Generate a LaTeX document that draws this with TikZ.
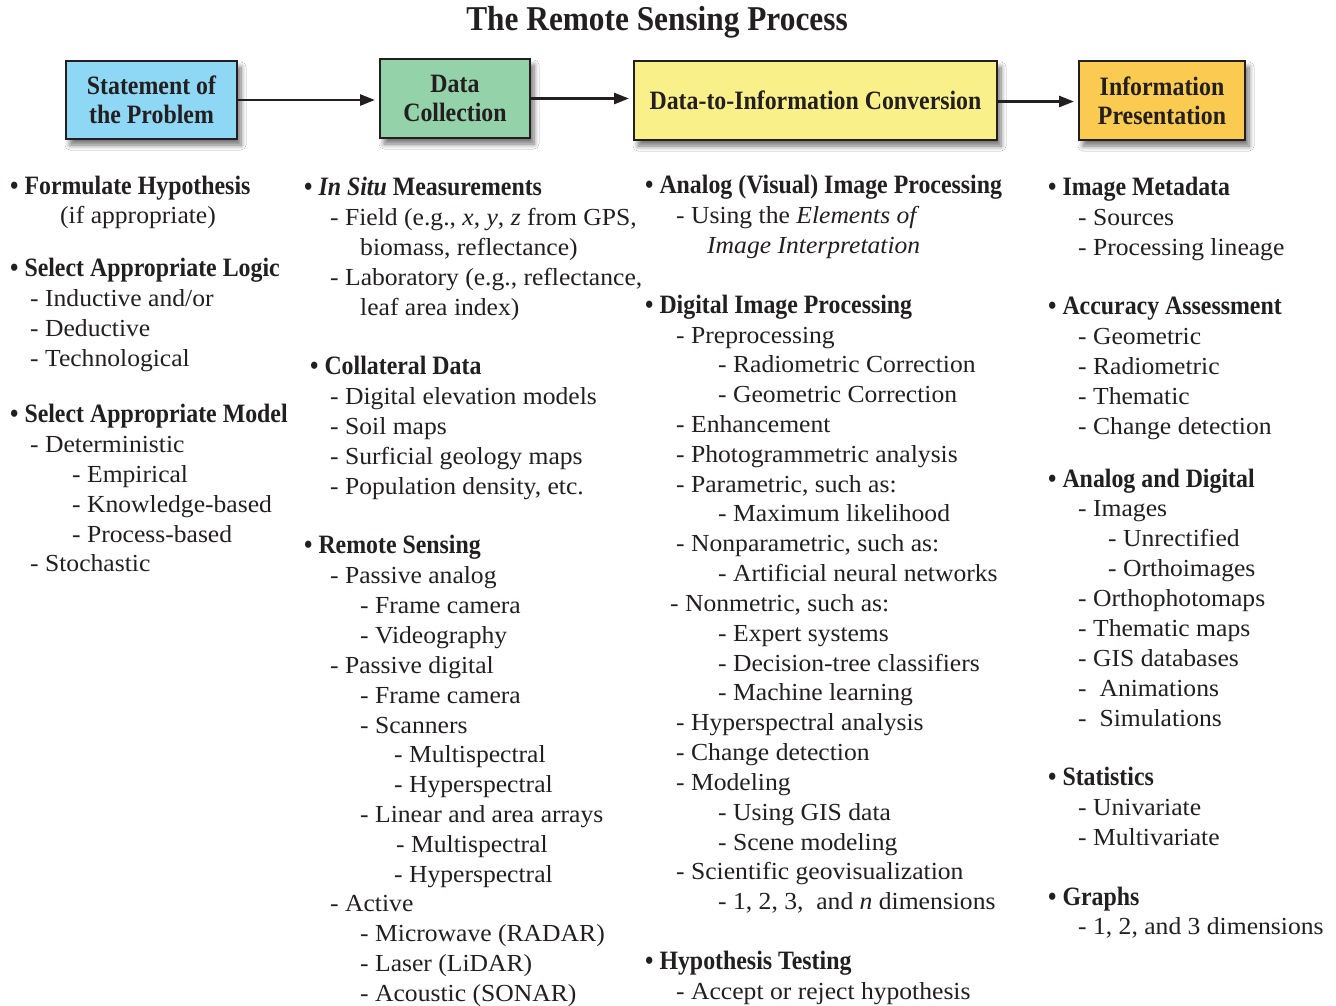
\documentclass[tikz,border=0pt]{standalone}
\usepackage{fontspec}
\setmainfont{Liberation Serif}
\newfontfamily\bodyf{Liberation Serif}[FakeStretch=1.045]
\newfontfamily\hdf{Liberation Serif}[FakeStretch=0.90]
\usetikzlibrary{arrows.meta,shadows.blur}
\definecolor{bxblue}{HTML}{8ED8F6}
\definecolor{bxgreen}{HTML}{94D2A9}
\definecolor{bxyellow}{HTML}{F9F08A}
\definecolor{bxorange}{HTML}{FBCA50}
\definecolor{ink}{HTML}{231F20}
\begin{document}
\begin{tikzpicture}[x=1pt,y=-1pt,
  tx/.style={anchor=base west,inner sep=0pt,text=ink,font=\bodyf\fontsize{24.5}{25}\selectfont},
  hd/.style={anchor=base west,inner sep=0pt,text=ink,font=\hdf\bfseries\fontsize{26.5}{27}\selectfont},
  stage/.style={draw=ink,line width=2pt,inner sep=0pt,align=center,text=ink,
    font=\hdf\bfseries\fontsize{26.5}{29}\selectfont,
    blur shadow={shadow xshift=4pt,shadow yshift=-6pt,shadow blur steps=8,shadow blur radius=5pt,shadow opacity=55}},
  flow/.style={draw=ink,line width=2.6pt,-{Triangle[length=15pt,width=11pt]},shorten >=4pt}]
\useasboundingbox[fill=white] (0,0) rectangle (1336,1005);
% title
\node[inner sep=0pt,text=ink,font=\hdf\bfseries\fontsize{34.8}{35}\selectfont] (title) at (657,22) {The Remote Sensing Process};
% stage boxes
\node[stage,fill=bxblue,minimum width=171pt,minimum height=78pt] (A) at (151.5,100) {Statement of\\the Problem};
\node[stage,fill=bxgreen,minimum width=150pt,minimum height=79pt] (B) at (455,98.5) {Data\\Collection};
\node[stage,fill=bxyellow,minimum width=363pt,minimum height=79pt] (C) at (815.5,100.5) {Data-to-Information Conversion};
\node[stage,fill=bxorange,minimum width=166pt,minimum height=79pt] (D) at (1162,100.5) {Information\\Presentation};
\draw[flow] (A.east) -- (A.east -| B.west);
\draw[flow] (B.east) -- (B.east -| C.west);
\draw[flow] ([yshift=-1pt]C.east) -- ([yshift=-1pt]C.east -| D.west);
% column 1
\node[hd] (a1) at (10,194) {• Formulate Hypothesis};
\node[tx] (a2) at (60,223) {(if appropriate)};
\node[hd] (a3) at (10,276) {• Select Appropriate Logic};
\node[tx] (a4) at (30,306) {- Inductive and/or};
\node[tx] (a5) at (30,336) {- Deductive};
\node[tx] (a6) at (30,366) {- Technological};
\node[hd] (a7) at (10,422) {• Select Appropriate Model};
\node[tx] (a8) at (30,452) {- Deterministic};
\node[tx] (a9) at (72,482) {- Empirical};
\node[tx] (a10) at (72,512) {- Knowledge-based};
\node[tx] (a11) at (72,542) {- Process-based};
\node[tx] (a12) at (30,571) {- Stochastic};
% column 2
\node[hd] (b1) at (304,195) {• \textit{In Situ} Measurements};
\node[tx] (b2) at (330,225) {- Field (e.g., \textit{x}, \textit{y}, \textit{z} from GPS,};
\node[tx] (b3) at (360,255) {biomass, reflectance)};
\node[tx] (b4) at (330,285) {- Laboratory (e.g., reflectance,};
\node[tx] (b5) at (360,315) {leaf area index)};
\node[hd] (b6) at (310,374) {• Collateral Data};
\node[tx] (b7) at (330,404) {- Digital elevation models};
\node[tx] (b8) at (330,434) {- Soil maps};
\node[tx] (b9) at (330,464) {- Surficial geology maps};
\node[tx] (b10) at (330,494) {- Population density, etc.};
\node[hd] (b11) at (304,553) {• Remote Sensing};
\node[tx] (b12) at (330,583) {- Passive analog};
\node[tx] (b13) at (360,613) {- Frame camera};
\node[tx] (b14) at (360,643) {- Videography};
\node[tx] (b15) at (330,673) {- Passive digital};
\node[tx] (b16) at (360,703) {- Frame camera};
\node[tx] (b17) at (360,733) {- Scanners};
\node[tx] (b18) at (394,762) {- Multispectral};
\node[tx] (b19) at (394,792) {- Hyperspectral};
\node[tx] (b20) at (360,822) {- Linear and area arrays};
\node[tx] (b21) at (396,852) {- Multispectral};
\node[tx] (b22) at (394,882) {- Hyperspectral};
\node[tx] (b23) at (330,911) {- Active};
\node[tx] (b24) at (360,941) {- Microwave (RADAR)};
\node[tx] (b25) at (360,971) {- Laser (LiDAR)};
\node[tx] (b26) at (360,1001) {- Acoustic (SONAR)};
% column 3
\node[hd] (c1) at (645,193) {• Analog (Visual) Image Processing};
\node[tx] (c2) at (676,223) {- Using the \textit{Elements of}};
\node[tx] (c3) at (707,253) {\textit{Image Interpretation}};
\node[hd] (c4) at (645,313) {• Digital Image Processing};
\node[tx] (c5) at (676,343) {- Preprocessing};
\node[tx] (c6) at (718,372) {- Radiometric Correction};
\node[tx] (c7) at (718,402) {- Geometric Correction};
\node[tx] (c8) at (676,432) {- Enhancement};
\node[tx] (c9) at (676,462) {- Photogrammetric analysis};
\node[tx] (c10) at (676,492) {- Parametric, such as:};
\node[tx] (c11) at (718,521) {- Maximum likelihood};
\node[tx] (c12) at (676,551) {- Nonparametric, such as:};
\node[tx] (c13) at (718,581) {- Artificial neural networks};
\node[tx] (c14) at (670,611) {- Nonmetric, such as:};
\node[tx] (c15) at (718,641) {- Expert systems};
\node[tx] (c16) at (718,671) {- Decision-tree classifiers};
\node[tx] (c17) at (718,700) {- Machine learning};
\node[tx] (c18) at (676,730) {- Hyperspectral analysis};
\node[tx] (c19) at (676,760) {- Change detection};
\node[tx] (c20) at (676,790) {- Modeling};
\node[tx] (c21) at (718,820) {- Using GIS data};
\node[tx] (c22) at (718,850) {- Scene modeling};
\node[tx] (c23) at (676,879) {- Scientific geovisualization};
\node[tx] (c24) at (718,909) {- 1, 2, 3,\ \ and \textit{n} dimensions};
\node[hd] (c25) at (645,969) {• Hypothesis Testing};
\node[tx] (c26) at (676,999) {- Accept or reject hypothesis};
% column 4
\node[hd] (d1) at (1048,195) {• Image Metadata};
\node[tx] (d2) at (1078,225) {- Sources};
\node[tx] (d3) at (1078,255) {- Processing lineage};
\node[hd] (d4) at (1048,314) {• Accuracy Assessment};
\node[tx] (d5) at (1078,344) {- Geometric};
\node[tx] (d6) at (1078,374) {- Radiometric};
\node[tx] (d7) at (1078,404) {- Thematic};
\node[tx] (d8) at (1078,434) {- Change detection};
\node[hd] (d9) at (1048,487) {• Analog and Digital};
\node[tx] (d10) at (1078,516) {- Images};
\node[tx] (d11) at (1108,546) {- Unrectified};
\node[tx] (d12) at (1108,576) {- Orthoimages};
\node[tx] (d13) at (1078,606) {- Orthophotomaps};
\node[tx] (d14) at (1078,636) {- Thematic maps};
\node[tx] (d15) at (1078,666) {- GIS databases};
\node[tx] (d16) at (1078,696) {-\ \ Animations};
\node[tx] (d17) at (1078,726) {-\ \ Simulations};
\node[hd] (d18) at (1048,785) {• Statistics};
\node[tx] (d19) at (1078,815) {- Univariate};
\node[tx] (d20) at (1078,845) {- Multivariate};
\node[hd] (d21) at (1048,905) {• Graphs};
\node[tx] (d22) at (1078,934) {- 1, 2, and 3 dimensions};
\end{tikzpicture}
\end{document}
